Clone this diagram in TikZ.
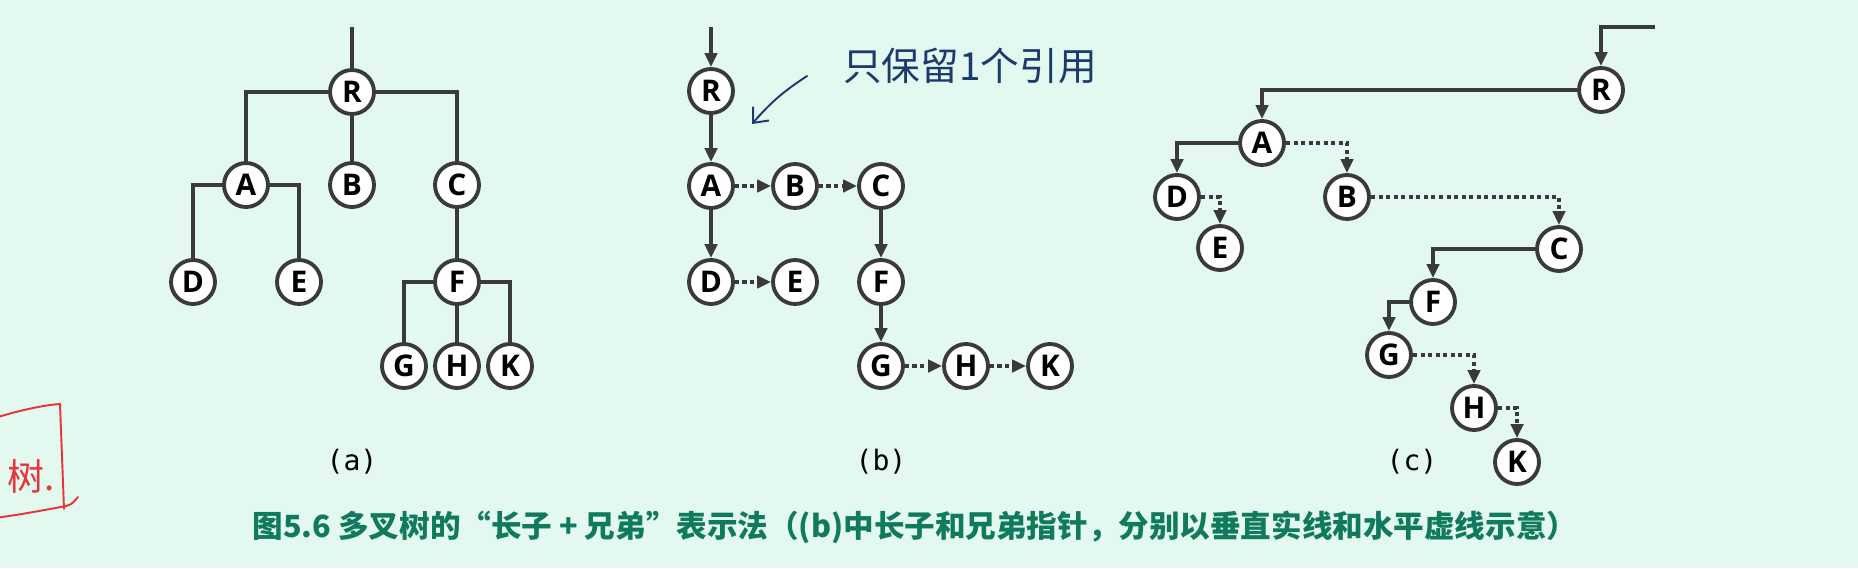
\documentclass[tikz,border=0pt]{standalone}
\usepackage{fontspec}
\setmainfont{Open Sans}
\setmonofont{DejaVu Sans Mono}
\newfontfamily\cjk{Noto Sans CJK SC}
\usetikzlibrary{arrows.meta}
\definecolor{bgmint}{RGB}{227,249,239}
\definecolor{edgegray}{RGB}{58,58,58}
\definecolor{captiongreen}{RGB}{16,122,92}
\definecolor{inkblue}{RGB}{28,58,110}
\definecolor{inkred}{RGB}{232,52,60}

\begin{document}
\begin{tikzpicture}[x=0.02cm,y=-0.02cm,
  vtx/.style={circle, draw=edgegray, fill=white, line width=2.2pt, minimum size=0.88cm, inner sep=0pt, font=\fontsize{17}{17}\selectfont\bfseries},
  edge/.style={draw=edgegray, line width=2.3pt},
  kid/.style={edge, -{Triangle[length=8pt,width=7pt]}},
  sib/.style={kid, dash pattern=on 2.3pt off 2pt},
  tag/.style={font=\ttfamily\fontsize{16}{16}\selectfont},
  ink/.style={draw=inkblue, line width=1.1pt, line cap=round},
  redink/.style={draw=inkred, line width=1.1pt, line cap=round}]
\fill[bgmint] (0,0) rectangle (1858,568);
\useasboundingbox (0,0) rectangle (1858,568);
% (a) the tree itself
\coordinate (topa) at (352,27);
\node[vtx] (Ra) at (352,92) {R};
\node[vtx] (Aa) at (246,185) {A};
\node[vtx] (Ba) at (352,185) {B};
\node[vtx] (Ca) at (457,185) {C};
\node[vtx] (Da) at (193,282) {D};
\node[vtx] (Ea) at (299,282) {E};
\node[vtx] (Fa) at (457,282) {F};
\node[vtx] (Ga) at (404,366) {G};
\node[vtx] (Ha) at (457,366) {H};
\node[vtx] (Ka) at (510,366) {K};
\draw[edge] (topa) -- (Ra);
\draw[edge] (Ra.west) -| (Aa.north); \draw[edge] (Ra) -- (Ba); \draw[edge] (Ra.east) -| (Ca.north);
\draw[edge] (Aa.west) -| (Da.north); \draw[edge] (Aa.east) -| (Ea.north);
\draw[edge] (Ca) -- (Fa);
\draw[edge] (Fa.west) -| (Ga.north); \draw[edge] (Fa) -- (Ha); \draw[edge] (Fa.east) -| (Ka.north);
\node[tag] (laba) at (352,462) {(a)};
% (b) first child + next sibling
\coordinate (topb) at (711,27);
\node[vtx] (Rb) at (711,91) {R};
\node[vtx] (Ab) at (711,186) {A};
\node[vtx] (Bb) at (795,186) {B};
\node[vtx] (Cb) at (881,186) {C};
\node[vtx] (Db) at (711,282) {D};
\node[vtx] (Eb) at (795,282) {E};
\node[vtx] (Fb) at (881,282) {F};
\node[vtx] (Gb) at (881,366) {G};
\node[vtx] (Hb) at (966,366) {H};
\node[vtx] (Kb) at (1050,366) {K};
\draw[kid] (topb) -- (Rb); \draw[kid] (Rb) -- (Ab); \draw[kid] (Ab) -- (Db);
\draw[kid] (Cb) -- (Fb); \draw[kid] (Fb) -- (Gb);
\draw[sib] (Ab) -- (Bb); \draw[sib] (Bb) -- (Cb); \draw[sib] (Db) -- (Eb);
\draw[sib] (Gb) -- (Hb); \draw[sib] (Hb) -- (Kb);
\node[tag] (labb) at (881,462) {(b)};
% handwritten note
\node[text=inkblue, font=\cjk\fontsize{22}{22}\selectfont] (note) at (970,66) {只保留1个引用};
\coordinate (notetip) at (752,124);
\draw[ink, -{Straight Barb[length=7pt,width=12pt]}] ([shift={(-30,10)}]note.west) to[bend right=8] (notetip);
% (c) the same, drawn as a binary tree
\coordinate (topc) at (1655,27);
\node[vtx] (Rc) at (1601,90) {R};
\node[vtx] (Ac) at (1262,143) {A};
\node[vtx] (Bc) at (1347,197) {B};
\node[vtx] (Cc) at (1559,249) {C};
\node[vtx] (Dc) at (1177,197) {D};
\node[vtx] (Ec) at (1220,248) {E};
\node[vtx] (Fc) at (1433,302) {F};
\node[vtx] (Gc) at (1389,355) {G};
\node[vtx] (Hc) at (1474,408) {H};
\node[vtx] (Kc) at (1517,462) {K};
\draw[kid] (topc) -| (Rc.north);
\draw[kid] (Rc.west) -| (Ac.north); \draw[kid] (Ac.west) -| (Dc.north);
\draw[kid] (Cc.west) -| (Fc.north); \draw[kid] (Fc.west) -| (Gc.north);
\draw[sib] (Ac.east) -| (Bc.north); \draw[sib] (Dc.east) -| (Ec.north);
\draw[sib] (Bc.east) -| (Cc.north); \draw[sib] (Gc.east) -| (Hc.north);
\draw[sib] (Hc.east) -| (Kc.north);
\node[tag] (labc) at (1412,462) {(c)};
% red margin mark
\node[text=inkred, font=\cjk\fontsize{21}{21}\selectfont, anchor=east, inner sep=1pt] (redword) at (57,476) {树.};
\draw[redink] (-5,418) .. controls (20,410) and (45,405) .. (60,404) -- (64,509);
\draw[redink] (-5,518) .. controls (25,514) and (55,508) .. (66,506) .. controls (72,504) .. (78,497);
% caption
\node[text=captiongreen, font=\cjk\bfseries\fontsize{17.4}{17.4}\selectfont] (cap) at (915,527) {图5.6 多叉树的“长子 + 兄弟”表示法（(b)中长子和兄弟指针，分别以垂直实线和水平虚线示意）};
\end{tikzpicture}
\end{document}
